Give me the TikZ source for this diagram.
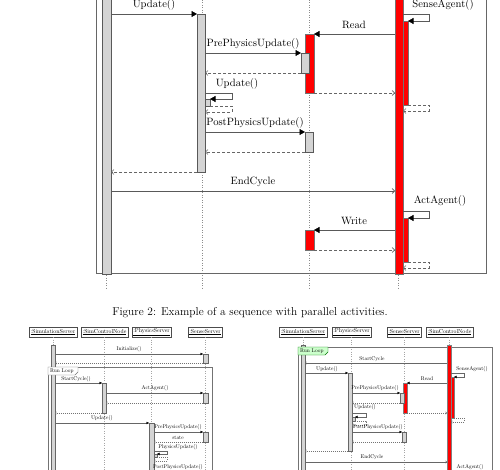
\documentclass[tikz,border=0pt]{standalone}
\usepackage{graphicx}
\usetikzlibrary{arrows.meta,fit,shadows}
\begin{document}
\begin{tikzpicture}[x=1pt,y=-1pt,
  frm/.style={draw=black!60, line width=0.6pt},
  gbar/.style={draw=black!65, fill=black!17, line width=0.6pt, inner sep=0pt, outer sep=0pt},
  rbar/.style={draw=black!55, fill=red, line width=0.5pt, inner sep=0pt, outer sep=0pt},
  life/.style={draw=black!45, dotted, line width=0.5pt},
  sync/.style={draw=black!65, line width=0.6pt, -{Triangle[length=5.5pt,width=6pt,color=black]}},
  async/.style={draw=black!65, line width=0.6pt, -{Straight Barb[length=2.5pt,width=5pt]}},
  ret/.style={draw=black!60, line width=0.6pt, dash pattern=on 3pt off 2pt, -{Straight Barb[length=2.5pt,width=5pt]}},
  lbl/.style={inner sep=0pt, anchor=base, font=\fontsize{10.6}{12}\selectfont},
  sfrm/.style={draw=black!55, line width=0.4pt},
  sgbar/.style={draw=black!60, fill=black!17, line width=0.4pt, inner sep=0pt, outer sep=0pt},
  srbar/.style={draw=black!50, fill=red, line width=0.3pt, inner sep=0pt, outer sep=0pt},
  slife/.style={draw=black!35, dotted, line width=0.4pt},
  ssync/.style={draw=black!60, line width=0.4pt, -{Triangle[length=2.5pt,width=2.5pt,color=black]}},
  sasync/.style={draw=black!60, line width=0.4pt, -{Straight Barb[length=1.2pt,width=2.5pt]}},
  sret/.style={draw=black!55, line width=0.4pt, dash pattern=on 1pt off 1pt, -{Straight Barb[length=1.2pt,width=2.5pt]}},
  slbl/.style={inner sep=0pt, anchor=center, scale=0.54, font=\fontsize{10}{12}\selectfont},
  hdr/.style={draw=black!70, fill=white, line width=0.4pt, inner sep=0pt, minimum height=10pt,
    drop shadow={shadow xshift=1pt, shadow yshift=-1pt, fill=black!70, opacity=1}},
]
\useasboundingbox (0,0) rectangle (500,470);
\clip (0,0) rectangle (500,470);
\fill[white] (0,0) rectangle (500,470);

% ================= top diagram =================
\draw[life] (106,-10) -- (106,288);
\draw[life] (202,-10) -- (202,288);
\draw[life] (309,-10) -- (309,288);
\draw[life] (398,-10) -- (398,288);
\draw[frm] (96,-10) rectangle (486,273);

\node[gbar, fit={(102,-10) (111,274)}] (simA) {};
\node[gbar, fit={(197,14) (205,172)}] (phys) {};
\node[rbar, fit={(305,34) (314,93)}] (senR1) {};
\node[gbar, fit={(301,53) (309,73)}] (senG1) {};
\node[gbar, fit={(205,99) (210,106)}] (physS) {};
\node[gbar, fit={(305,132) (313,152)}] (senG2) {};
\node[rbar, fit={(395,-10) (403,274)}] (ctrl) {};
\node[rbar, fit={(403,21) (408,105)}] (ctrlA) {};
\node[rbar, fit={(403,218) (408,262)}] (ctrlB) {};
\node[rbar, fit={(305,230) (314,250)}] (senR2) {};

\draw[sync] (simA.east |- 0,14) -- (phys.west |- 0,14);
\node[lbl] (tUpd) at (154,8) {Update()};
\draw[sync] (phys.east |- 0,53) -- (senG1.west |- 0,53);
\node[lbl] (tPre) at (253,47) {PrePhysicsUpdate()};
\draw[ret] (senG1.west |- 0,73) -- (phys.east |- 0,73);
\draw[sync] (ctrl.west |- 0,34) -- (senR1.east |- 0,34);
\node[lbl] (tRead) at (354,29) {Read};
\draw[ret] (senR1.east |- 0,93) -- (ctrl.west |- 0,93);
\draw[sync] (phys.east |- 0,93) -| (232,99) -- (physS.east |- 0,99);
\node[lbl] (tUpd2) at (237,87) {Update()};
\draw[ret] (physS.east |- 0,106) -| (232,112) -- (phys.east |- 0,112);
\draw[sync] (phys.east |- 0,132) -- (senG2.west |- 0,132);
\node[lbl] (tPost) at (255,126) {PostPhysicsUpdate()};
\draw[ret] (senG2.west |- 0,152) -- (phys.east |- 0,152);
\draw[ret] (phys.west |- 0,172) -- (simA.east |- 0,172);
\draw[async] (simA.east |- 0,191) -- (ctrl.west |- 0,191);
\node[lbl] (tEnd) at (253,185) {EndCycle};
\draw[sync] (ctrl.east |- 0,14) -| (429,21) -- (ctrlA.east |- 0,21);
\node[lbl] (tSense) at (443,8) {SenseAgent()};
\draw[ret] (ctrlA.east |- 0,105) -| (429,111) -- (ctrl.east |- 0,111);
\draw[sync] (ctrl.east |- 0,211) -| (429,218) -- (ctrlB.east |- 0,218);
\node[lbl] (tAct) at (440,204) {ActAgent()};
\draw[ret] (ctrlB.east |- 0,262) -| (429,268) -- (ctrl.east |- 0,268);
\draw[sync] (ctrl.west |- 0,230) -- (senR2.east |- 0,230);
\node[lbl] (tWrite) at (354,225) {Write};
\draw[ret] (senR2.east |- 0,250) -- (ctrl.west |- 0,250);

\node[inner sep=0pt, anchor=base, font=\fontsize{11.4}{13}\selectfont] (cap) at (250,315)
  {Figure 2: Example of a sequence with parallel activities.};

% ================= bottom left diagram =================
\node[hdr, minimum width=48pt] (h1) at (53,332) {\scalebox{0.58}{\underline{:SimulationServer}}};
\node[hdr, minimum width=47pt] (h2) at (104.5,332) {\scalebox{0.58}{\underline{:SimControlNode}}};
\node[hdr, minimum width=39pt] (h3) at (151.5,332) {\scalebox{0.58}{\underline{:PhysicsServer}}};
\node[hdr, minimum width=34pt] (h4) at (205,332) {\scalebox{0.58}{\underline{:SenseServer}}};
\draw[slife] (h1.south) -- (h1.south |- 0,475);
\draw[slife] (h2.south) -- (h2.south |- 0,475);
\draw[slife] (h3.south) -- (h3.south |- 0,475);
\draw[slife] (h4.south) -- (h4.south |- 0,475);
\draw[sfrm] (48,367) rectangle (212,475);

\node[sgbar, fit={(51,345) (55,475)}] (L1) {};
\node[sgbar, fit={(203,354) (208,363)}] (L4a) {};
\node[sgbar, fit={(102,383) (106,413)}] (L2) {};
\node[sgbar, fit={(203,393) (208,403)}] (L4b) {};
\node[sgbar, fit={(149,423) (154,475)}] (L3) {};
\node[sgbar, fit={(203,432) (208,442)}] (L4c) {};
\node[sgbar, fit={(154,454) (157,457)}] (L3s) {};

\draw[sfrm, fill=white] (48,367) -- (78,367) -- (78,372) -- (75,375) -- (48,375) -- cycle;
\node[slbl, anchor=west] (rl1) at (50,371) {Run Loop};

\draw[ssync] (L1.east |- 0,354) -- (L4a.west |- 0,354);
\node[slbl] (a1) at (129,349) {Initialize()};
\draw[sret] (L4a.west |- 0,363) -- (L1.east |- 0,363);
\draw[ssync] (L1.east |- 0,383) -- (L2.west |- 0,383);
\node[slbl] (a2) at (76,379) {StartCycle()};
\draw[ssync] (L2.east |- 0,393) -- (L4b.west |- 0,393);
\node[slbl] (a3) at (155,388) {ActAgent()};
\draw[sret] (L4b.west |- 0,403) -- (L2.east |- 0,403);
\draw[sret] (L2.west |- 0,413) -- (L1.east |- 0,413);
\draw[ssync] (L1.east |- 0,423) -- (L3.west |- 0,423);
\node[slbl] (a4) at (102,418) {Update()};
\draw[ssync] (L3.east |- 0,432) -- (L4c.west |- 0,432);
\node[slbl] (a5) at (178,427) {PrePhysicsUpdate()};
\draw[sret] (L4c.west |- 0,442) -- (L3.east |- 0,442);
\node[slbl] (a6) at (178,438) {state};
\draw[ssync] (L3.east |- 0,451) -| (167,454) -- (L3s.east |- 0,454);
\node[slbl] (a7) at (178,447) {PhysicsUpdate()};
\draw[sret] (L3s.east |- 0,457) -| (167,461) -- (L3.east |- 0,461);
\node[slbl] (a8) at (178,467) {PostPhysicsUpdate()};

% ================= bottom right diagram =================
\node[hdr, minimum width=48pt] (k1) at (303,332) {\scalebox{0.58}{\underline{:SimulationServer}}};
\node[hdr, minimum width=39pt] (k2) at (351.5,332) {\scalebox{0.58}{\underline{:PhysicsServer}}};
\node[hdr, minimum width=34pt] (k3) at (404,332) {\scalebox{0.58}{\underline{:SenseServer}}};
\node[hdr, minimum width=47pt] (k4) at (449.5,332) {\scalebox{0.58}{\underline{:SimControlNode}}};
\draw[slife] (k1.south) -- (k1.south |- 0,475);
\draw[slife] (k2.south) -- (k2.south |- 0,475);
\draw[slife] (k3.south) -- (k3.south |- 0,475);
\draw[slife] (k4.south) -- (k4.south |- 0,475);
\draw[sfrm] (298,347) rectangle (492,475);

\node[sgbar, fit={(301,345) (305,475)}] (Ra) {};
\node[srbar, fit={(447,345) (451,475)}] (Rc) {};
\node[srbar, fit={(451,377) (454,418)}] (RcA) {};
\node[sgbar, fit={(348,373) (352,451)}] (Rp) {};
\node[srbar, fit={(403,383) (407,413)}] (Rs) {};
\node[sgbar, fit={(400,393) (404,403)}] (Rg1) {};
\node[sgbar, fit={(352,417) (355,421)}] (Rps) {};
\node[sgbar, fit={(402,432) (406,442)}] (Rg2) {};

\draw[draw=green!45!black, line width=0.4pt, fill=green!20] (298,347) -- (328,347) -- (328,352) -- (325,355) -- (298,355) -- cycle;
\node[slbl, anchor=west] (rl2) at (300,351) {Run Loop};

\draw[sasync] (Rc.west |- 0,363) -- (Ra.east |- 0,363);
\node[slbl] (b1) at (372,359) {StartCycle};
\draw[ssync] (Rc.east |- 0,373) -| (464,377) -- (RcA.east |- 0,377);
\node[slbl] (b2) at (472,369) {SenseAgent()};
\draw[ssync] (Ra.east |- 0,373) -- (Rp.west |- 0,373);
\node[slbl] (b3) at (327,369) {Update()};
\draw[ssync] (Rc.west |- 0,383) -- (Rs.east |- 0,383);
\node[slbl] (b4) at (427,379) {Read};
\draw[ssync] (Rp.east |- 0,393) -- (Rg1.west |- 0,393);
\node[slbl] (b5) at (375,388) {PrePhysicsUpdate()};
\draw[sret] (Rg1.west |- 0,403) -- (Rp.east |- 0,403);
\draw[ssync] (Rp.east |- 0,413) -| (366,417) -- (Rps.east |- 0,417);
\node[slbl] (b6) at (365,407) {Update()};
\draw[sret] (Rps.east |- 0,421) -| (366,425) -- (Rp.east |- 0,425);
\draw[sret] (Rs.east |- 0,413) -- (Rc.west |- 0,413);
\draw[sret] (RcA.east |- 0,418) -| (464,422) -- (Rc.east |- 0,422);
\draw[ssync] (Rp.east |- 0,432) -- (Rg2.west |- 0,432);
\node[slbl] (b7) at (378,427) {PostPhysicsUpdate()};
\draw[sret] (Rg2.west |- 0,442) -- (Rp.east |- 0,442);
\draw[sret] (Rp.west |- 0,451) -- (Ra.east |- 0,451);
\draw[sasync] (Ra.east |- 0,462) -- (Rc.west |- 0,462);
\node[slbl] (b8) at (372,457) {EndCycle};
\node[slbl] (b9) at (470,467) {ActAgent()};
\end{tikzpicture}
\end{document}
